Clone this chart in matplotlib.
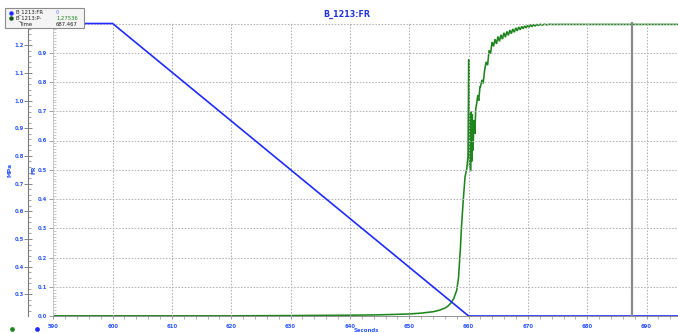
import matplotlib
matplotlib.use("Agg")
import matplotlib.pyplot as plt
from matplotlib.ticker import MultipleLocator
from matplotlib.patches import Rectangle
from matplotlib.lines import Line2D

# ---- data -------------------------------------------------------------
title = "B_1213:FR"
fr_name = "B_1213:FR"
p_name = "B_1213:P-"
cursor_time = 687.467
fr_at_cursor = "0"
p_at_cursor = "1.27536"

# flow-ratio command (FR, 0..1)
fr_t = [590.0, 600.0, 660.0, 695.3]
fr_v = [1.0, 1.0, 0.0, 0.0]

# pressure (MPa)
p_t = [590.0, 620.0, 630.0, 640.0, 644.0, 647.0, 650.0, 652.0, 654.0, 655.0,
       656.0, 656.5, 657.0, 657.5, 658.0, 658.3,
       658.6, 658.8, 659.1, 659.4, 659.7, 659.9, 659.97, 660.02, 660.07, 660.12,
       660.18, 660.25, 660.32, 660.42, 660.52, 660.62, 660.75, 660.9, 661.05, 661.2,
       661.36, 661.55, 661.7, 661.92, 662.0, 662.25, 662.45, 662.7, 662.95, 663.2,
       663.45, 663.7, 663.95, 664.2, 664.45, 664.7, 664.95, 665.2, 665.45, 665.7,
       665.95, 666.2, 666.45, 666.7, 666.95, 667.2, 667.45, 667.7, 667.95, 668.2,
       668.45, 668.7, 668.95, 669.2, 669.45, 669.7, 669.95, 670.2, 670.45, 670.7,
       670.95, 671.2, 671.5, 671.8, 672.1, 672.4, 672.8, 673.2, 673.6, 674.2,
       675.0, 695.3]
p_v = [0.2222, 0.2222, 0.2232, 0.2245, 0.2255, 0.2270, 0.2290, 0.2320, 0.2370, 0.2420,
       0.2500, 0.2570, 0.2680, 0.2850, 0.3150, 0.3600,
       0.460, 0.544, 0.641, 0.725, 0.755, 0.800, 1.000, 1.150, 0.800, 0.950,
       0.760, 0.930, 0.745, 0.960, 0.780, 0.950, 0.820, 0.930, 0.880, 0.970,
       0.990, 1.020, 1.000, 1.050, 1.050, 1.075, 1.062, 1.110, 1.140, 1.128,
       1.182, 1.170, 1.212, 1.196, 1.222, 1.205, 1.232, 1.214, 1.238, 1.222,
       1.245, 1.229, 1.250, 1.236, 1.255, 1.242, 1.259, 1.247, 1.263, 1.252,
       1.266, 1.256, 1.268, 1.260, 1.270, 1.263, 1.272, 1.266, 1.273, 1.268,
       1.274, 1.270, 1.275, 1.272, 1.276, 1.273, 1.276, 1.274, 1.2758, 1.2752,
       1.2754, 1.27536]

x_ticks = [590, 600, 610, 620, 630, 640, 650, 660, 670, 680, 690]
fr_ticks = [0.0, 0.1, 0.2, 0.3, 0.4, 0.5, 0.6, 0.7, 0.8, 0.9]
mpa_ticks = [0.3, 0.4, 0.5, 0.6, 0.7, 0.8, 0.9, 1.0, 1.1, 1.2]

# ---- styling ----------------------------------------------------------
BLUE = "#1f2bff"
LBLUE = "#2a55ff"
GREEN = "#1f861f"
GRID = "#b4b4b4"
SPINE = "#808080"

W, H = 678, 333
fig = plt.figure(figsize=(W / 100, H / 100), dpi=100)

left_px, bottom_px, top_px = 53.3, 316.0, 22.0
sec_px = 5.933
ax = fig.add_axes([left_px / W, (H - bottom_px) / H,
                   (W - left_px) / W, (bottom_px - top_px) / H])
x_max = 590 + (W - left_px) / sec_px
ax.set_xlim(590, x_max)
fr_px = 292.5
ax.set_ylim(0, (bottom_px - top_px) / fr_px)

# grid
for t in x_ticks[1:]:
    ax.axvline(t, color=GRID, lw=0.75, ls=(0, (1.5, 1.5)), zorder=1)
for v in fr_ticks[1:] + [1.0]:
    ax.axhline(v, color=GRID, lw=0.75, ls=(0, (1.5, 1.5)), zorder=1)

# pressure on its own axis
ax2 = ax.twinx()
mpa_px = 276.7
mpa_lo = 0.2216
ax2.set_ylim(mpa_lo, mpa_lo + (bottom_px - top_px) / mpa_px)
ax2.plot(p_t, p_v, color=GREEN, lw=1.15, zorder=3, solid_joinstyle="miter")
ax.plot(fr_t, fr_v, color=BLUE, lw=1.2, zorder=4)
ax.set_zorder(ax2.get_zorder() + 1)
ax.patch.set_visible(False)

# cursor line
ax.axvline(cursor_time, color="#8a8a8a", lw=1.6, zorder=5)

# FR axis (inner)
for s in ["top", "right"]:
    ax.spines[s].set_visible(False)
ax.spines["left"].set_color("#c0c0c0")
ax.spines["left"].set_linewidth(0.6)
ax.spines["bottom"].set_color(SPINE)
ax.spines["bottom"].set_linewidth(0.6)
ax.set_yticks(fr_ticks)
ax.set_yticklabels([f"{v:.1f}" for v in fr_ticks])
ax.yaxis.set_minor_locator(MultipleLocator(0.01))
ax.tick_params(axis="y", which="major", direction="out", length=3, width=0.6,
               color="#909090", labelsize=3.8, labelcolor=LBLUE, pad=1.5)
ax.tick_params(axis="y", which="minor", direction="in", length=2.2, width=0.5,
               color="#b0b0b0")
for lbl in ax.get_yticklabels():
    lbl.set_fontweight("bold")

ax.set_xticks(x_ticks)
ax.set_xticklabels([str(t) for t in x_ticks])
ax.xaxis.set_minor_locator(MultipleLocator(2))
ax.tick_params(axis="x", which="major", direction="out", length=2.5, width=0.6,
               color="#909090", labelsize=3.8, labelcolor=LBLUE, pad=3)
ax.tick_params(axis="x", which="minor", direction="out", length=2, width=0.5,
               color="#909090")
for lbl in ax.get_xticklabels():
    lbl.set_fontweight("bold")

# MPa axis (outer)
for s in ["top", "right", "bottom"]:
    ax2.spines[s].set_visible(False)
ax2.spines["left"].set_visible(True)
ax2.spines["left"].set_position(("axes", (28.3 - left_px) / (W - left_px)))
ax2.spines["left"].set_color("#7a7a7a")
ax2.spines["left"].set_linewidth(0.8)
ax2.yaxis.set_ticks_position("left")
ax2.yaxis.set_label_position("left")
ax2.set_yticks(mpa_ticks)
ax2.set_yticklabels([f"{v:.1f}" for v in mpa_ticks])
ax2.yaxis.set_minor_locator(MultipleLocator(0.02))
ax2.tick_params(axis="y", which="major", direction="inout", length=5.5, width=0.6,
                color="#707070", labelsize=3.8, labelcolor=LBLUE, pad=0.5)
ax2.tick_params(axis="y", which="minor", direction="in", length=2.5, width=0.5,
                color="#808080")
for lbl in ax2.get_yticklabels():
    lbl.set_fontweight("bold")

# axis titles
fig.text(10 / W, 1 - 170 / H, "MPa", rotation=90, ha="center", va="center",
         fontsize=4.3, fontweight="bold", color=LBLUE)
fig.text(34.5 / W, 1 - 170 / H, "FR", rotation=90, ha="center", va="center",
         fontsize=4.3, fontweight="bold", color=LBLUE)
fig.text(366 / W, 1 - 331 / H, "Seconds", ha="center", va="center",
         fontsize=3.9, fontweight="bold", color=LBLUE)
fig.text(347 / W, 1 - 14 / H, title, ha="center", va="center",
         fontsize=5.8, fontweight="bold", color="#2233dd")

# series colour markers below the axes
fig.add_artist(Line2D([12 / W], [1 - 329 / H], marker="o", ms=2.4, color=GREEN,
                      transform=fig.transFigure))
fig.add_artist(Line2D([37 / W], [1 - 329 / H], marker="o", ms=2.4, color=BLUE,
                      transform=fig.transFigure))

# cursor readout box
fig.add_artist(Rectangle((5 / W, 1 - 27.5 / H), 79 / W, 19 / H,
                         transform=fig.transFigure, facecolor="#f4f4f4",
                         edgecolor="#8c8c8c", lw=0.8, zorder=10))
rows = [(12.5, BLUE, fr_name, fr_at_cursor, "#6a7cff"),
        (18.3, "#145214", p_name, p_at_cursor, GREEN)]
for y, dot, name, val, vcol in rows:
    fig.add_artist(Line2D([11 / W], [1 - y / H], marker="o", ms=2.2, color=dot,
                          transform=fig.transFigure, zorder=11))
    fig.text(16 / W, 1 - y / H, name, ha="left", va="center", fontsize=3.8,
             color="#222222", zorder=12)
    fig.text(56 / W, 1 - y / H, val, ha="left", va="center", fontsize=3.8,
             color=vcol, zorder=12)
fig.text(20 / W, 1 - 24 / H, "Time", ha="left", va="center", fontsize=3.8,
         color="#222222", zorder=12)
fig.text(56 / W, 1 - 24 / H, f"{cursor_time:.3f}", ha="left", va="center",
         fontsize=3.8, color="#222222", zorder=12)

fig.savefig("out.png", dpi=100)
